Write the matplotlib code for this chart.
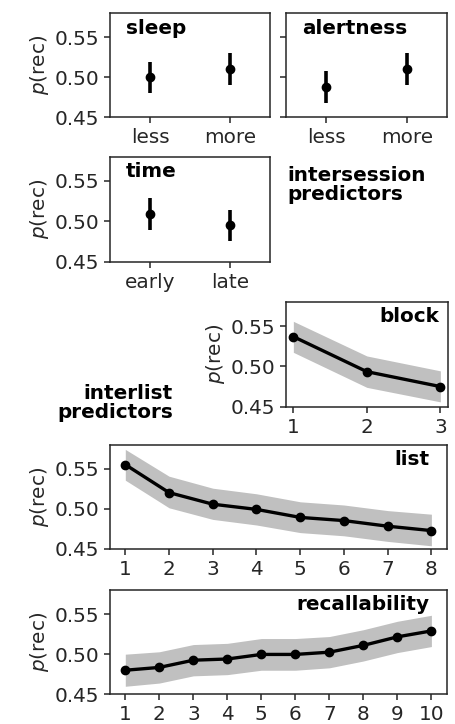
import numpy as np
import matplotlib
matplotlib.use("Agg")
import matplotlib.pyplot as plt

# categorical predictors: mean and error half-width
sleep_labels = ["less", "more"]
sleep_mean = [0.500, 0.510]
sleep_err = [0.0195, 0.020]

alert_labels = ["less", "more"]
alert_mean = [0.4875, 0.510]
alert_err = [0.020, 0.020]

time_labels = ["early", "late"]
time_mean = [0.509, 0.495]
time_err = [0.0195, 0.019]

# ordinal predictors: mean, lower and upper bound
block_x = [1, 2, 3]
block_mean = [0.537, 0.4935, 0.475]
block_lo = [0.5175, 0.474, 0.456]
block_hi = [0.556, 0.513, 0.4945]

list_x = [1, 2, 3, 4, 5, 6, 7, 8]
list_mean = [0.5555, 0.5205, 0.5060, 0.4995, 0.4895, 0.4855, 0.4785, 0.4730]
list_lo = [0.536, 0.5015, 0.487, 0.480, 0.4705, 0.4665, 0.4595, 0.4540]
list_hi = [0.5745, 0.541, 0.526, 0.519, 0.509, 0.505, 0.4980, 0.4935]

rec_x = [1, 2, 3, 4, 5, 6, 7, 8, 9, 10]
rec_mean = [0.480, 0.4835, 0.4925, 0.494, 0.4997, 0.4997, 0.5025, 0.511, 0.5216, 0.529]
rec_lo = [0.460, 0.464, 0.473, 0.4745, 0.480, 0.480, 0.483, 0.4915, 0.502, 0.5095]
rec_hi = [0.500, 0.503, 0.512, 0.5135, 0.5195, 0.5195, 0.522, 0.5305, 0.541, 0.5485]

W, H = 455, 724
FS = 14.4
DARK = "#262626"
plt.rcParams.update({
    "font.size": FS,
    "axes.linewidth": 1.1,
    "axes.edgecolor": DARK,
    "axes.labelcolor": DARK,
    "text.color": DARK,
    "xtick.color": DARK,
    "ytick.color": DARK,
    "xtick.major.size": 4.5,
    "ytick.major.size": 4.5,
    "xtick.major.width": 1.1,
    "ytick.major.width": 1.1,
    "axes.labelpad": 2.5,
})

fig = plt.figure(figsize=(W / 100, H / 100), dpi=100)


def px_axes(x0, y0, x1, y1):
    return fig.add_axes([x0 / W, 1 - y1 / H, (x1 - x0) / W, (y1 - y0) / H])


def style_y(ax, labels=True):
    ax.set_ylim(0.45, 0.58)
    ax.set_yticks([0.45, 0.50, 0.55])
    if labels:
        ax.set_yticklabels(["0.45", "0.50", "0.55"])
        ax.set_ylabel("$p$(rec)")
    else:
        ax.set_yticklabels([])


def cat_plot(ax, labels, mean, err, name, ylab=True):
    ax.errorbar(range(len(labels)), mean, yerr=err, fmt="o", color="k",
                ms=6, lw=2.6, capsize=0)
    ax.set_xlim(-0.5, len(labels) - 0.5)
    ax.set_xticks(range(len(labels)))
    ax.set_xticklabels(labels)
    style_y(ax, ylab)
    ax.text(0.1, 0.95, name, transform=ax.transAxes, fontweight="bold",
            ha="left", va="top", fontsize=FS, color="k")


def ord_plot(ax, x, mean, lo, hi, name):
    ax.fill_between(x, lo, hi, color="#c0c0c0", lw=0)
    ax.plot(x, mean, "o-", color="k", ms=6, lw=2.4)
    ax.set_xticks(x)
    style_y(ax)
    ax.text(0.95, 0.95, name, transform=ax.transAxes, fontweight="bold",
            ha="right", va="top", fontsize=FS, color="k")


ax = px_axes(110, 13.3, 270, 117.3)
cat_plot(ax, sleep_labels, sleep_mean, sleep_err, "sleep")

ax = px_axes(286, 13.3, 447, 117.3)
cat_plot(ax, alert_labels, alert_mean, alert_err, "alertness", ylab=False)

ax = px_axes(110, 156.7, 270, 261.7)
cat_plot(ax, time_labels, time_mean, time_err, "time")

fig.text(287 / W, 1 - 166 / H, "intersession\npredictors", fontweight="bold",
         ha="left", va="top", fontsize=FS, linespacing=1.0, color="k")

ax = px_axes(286, 302, 447.7, 406.7)
ord_plot(ax, block_x, block_mean, block_lo, block_hi, "block")

fig.text(173 / W, 1 - 384 / H, "interlist\npredictors", fontweight="bold",
         ha="right", va="top", fontsize=FS, linespacing=1.0, color="k")

ax = px_axes(110, 445, 446.7, 549)
ord_plot(ax, list_x, list_mean, list_lo, list_hi, "list")

ax = px_axes(110, 590, 446.7, 694.3)
ord_plot(ax, rec_x, rec_mean, rec_lo, rec_hi, "recallability")

fig.savefig("out.png", dpi=100)
